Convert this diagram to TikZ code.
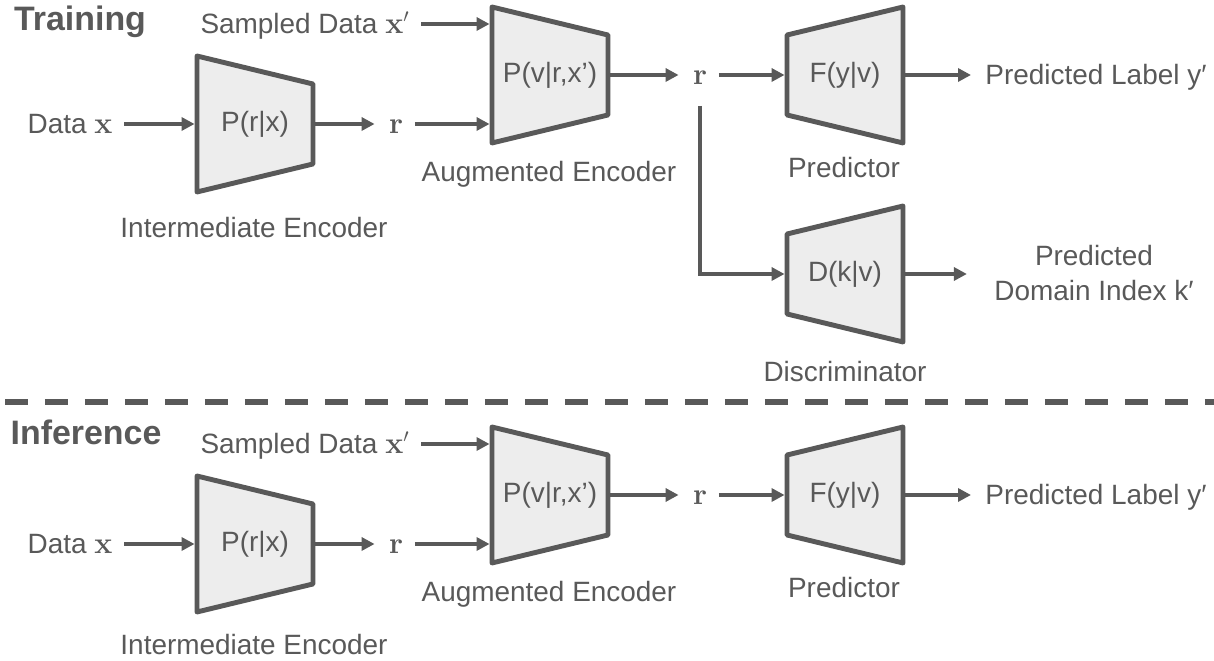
\documentclass[tikz,border=0pt]{standalone}
\usepackage[no-math]{fontspec}
\setmainfont{Liberation Sans}
\usetikzlibrary{arrows.meta, calc, backgrounds}
\definecolor{lineg}{RGB}{89,89,89}
\definecolor{boxg}{RGB}{237,237,237}

\begin{document}
\begin{tikzpicture}[x=0.02cm, y=-0.02cm,
    every node/.style={inner sep=0pt, text=lineg, font=\fontsize{15.9}{19.9}\selectfont},
    txt/.style={outer sep=0.24cm},
    lbl/.style={txt, text height=0.4cm, text depth=0pt},
    headtxt/.style={font=\fontsize{19.3}{22}\selectfont\bfseries},
    enc/.style={minimum width=2.32cm, minimum height=2.72cm, outer sep=0pt},
    box/.style={draw=lineg, fill=boxg, line width=2.8pt, line join=round},
    arr/.style={draw=lineg, line width=1.9pt, -{Triangle[length=0.26cm, width=0.26cm]}, shorten >=1.4pt},
    splitline/.style={draw=lineg, line width=3pt, dash pattern=on 0.46cm off 0.34cm}]
      \useasboundingbox (0,0) rectangle (1214,661);

      % training
      \node[headtxt] (trn) at (80,22) {Training};
      \node[lbl] (smpT) at (305,24) {Sampled Data $\mathbf{x}'$};
      \node[lbl] (dataT) at (70,124) {Data $\mathbf{x}$};
      \node[enc] (prT) at (255,124) {P(r|x)};
      \node[lbl] (rT1) at (396,124) {$\mathbf{r}$};
      \node[enc] (pvT) at (550,75) {P(v|r,x’)};
      \node[lbl] (rT2) at (700,75) {$\mathbf{r}$};
      \node[enc] (fT) at (845,75) {F(y|v)};
      \node[lbl] (labT) at (1096,75) {Predicted Label y′};
      \node[enc] (dT) at (845,274) {D(k|v)};
      \node[txt, outer sep=0.5cm, align=center] (pdT) at (1094,273) {Predicted\\Domain Index k′};

      \node[lbl] (capPrT) at (254,228) {Intermediate Encoder};
      \node[lbl] (capPvT) at (549,172) {Augmented Encoder};
      \node[lbl] (capFT) at (844,168) {Predictor};
      \node[lbl] (capDT) at (845,372) {Discriminator};

      \draw[arr] (dataT) -- (prT);
      \draw[arr] (prT) -- (rT1);
      \draw[arr] (rT1) -- (rT1 -| pvT.west);
      \draw[arr] (smpT) -- (smpT -| pvT.west);
      \draw[arr] (pvT) -- (rT2);
      \draw[arr] (rT2) -- (fT);
      \draw[arr] (fT) -- (labT);
      \draw[arr, shorten <=0.18cm] (rT2) |- (dT);
      \draw[arr] (dT) -- (dT -| pdT.west);

      \draw[splitline] (5,402) -- (1214,402);

      % inference
      \node[headtxt] (inf) at (86,432) {Inference};
      \node[lbl] (smpI) at (305,444) {Sampled Data $\mathbf{x}'$};
      \node[lbl] (dataI) at (70,544) {Data $\mathbf{x}$};
      \node[enc] (prI) at (255,544) {P(r|x)};
      \node[lbl] (rI1) at (396,544) {$\mathbf{r}$};
      \node[enc] (pvI) at (550,495) {P(v|r,x’)};
      \node[lbl] (rI2) at (700,495) {$\mathbf{r}$};
      \node[enc] (fI) at (845,495) {F(y|v)};
      \node[lbl] (labI) at (1096,495) {Predicted Label y′};

      \node[lbl] (capPrI) at (254,645) {Intermediate Encoder};
      \node[lbl] (capPvI) at (549,592) {Augmented Encoder};
      \node[lbl] (capFI) at (844,588) {Predictor};

      \draw[arr] (dataI) -- (prI);
      \draw[arr] (prI) -- (rI1);
      \draw[arr] (rI1) -- (rI1 -| pvI.west);
      \draw[arr] (smpI) -- (smpI -| pvI.west);
      \draw[arr] (pvI) -- (rI2);
      \draw[arr] (rI2) -- (fI);
      \draw[arr] (fI) -- (labI);

      \begin{scope}[on background layer]
        \foreach \n in {prT,pvT,prI,pvI}
          \filldraw[box] (\n.north west) -- ($(\n.north east)+(0,28)$) -- ($(\n.south east)+(0,-28)$) -- (\n.south west) -- cycle;
        \foreach \n in {fT,dT,fI}
          \filldraw[box] (\n.north east) -- ($(\n.north west)+(0,28)$) -- ($(\n.south west)+(0,-28)$) -- (\n.south east) -- cycle;
      \end{scope}
    \end{tikzpicture}
\end{document}
